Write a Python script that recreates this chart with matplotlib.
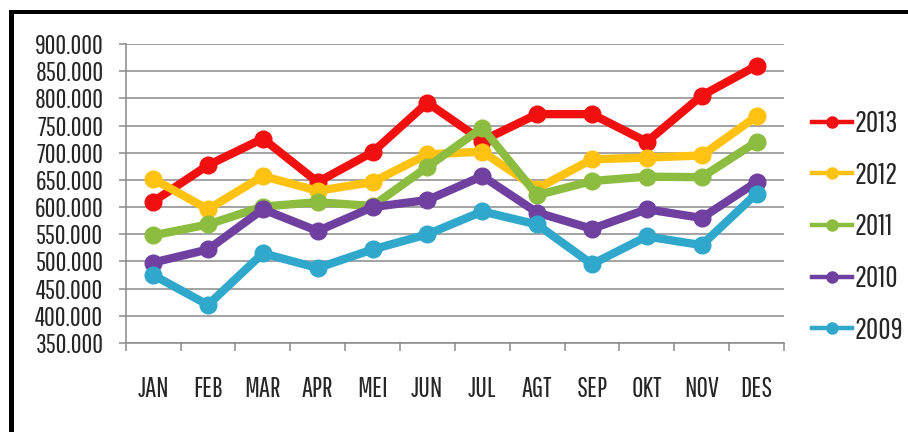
import matplotlib
matplotlib.use("Agg")
import matplotlib.pyplot as plt
from matplotlib.lines import Line2D
from matplotlib.patches import Rectangle

months = ["JAN", "FEB", "MAR", "APR", "MEI", "JUN", "JUL", "AGT", "SEP", "OKT", "NOV", "DES"]
years = ["2013", "2012", "2011", "2010", "2009"]
s2013 = [610, 677, 726, 646, 701, 792, 722, 771, 771, 720, 805, 860]
s2012 = [652, 596, 657, 630, 646, 697, 702, 634, 688, 691, 695, 767]
s2011 = [548, 568, 601, 609, 602, 674, 746, 622, 648, 656, 655, 720]
s2010 = [498, 522, 596, 556, 600, 613, 657, 590, 560, 596, 580, 646]
s2009 = [475, 420, 515, 488, 522, 550, 592, 568, 495, 546, 530, 625]
series = [s2013, s2012, s2011, s2010, s2009]
colors = ["#F20F10", "#FFC210", "#8DBD40", "#7040A0", "#30A8CC"]
yticks = [350, 400, 450, 500, 550, 600, 650, 700, 750, 800, 850, 900]
ytick_labels = [f"{v}.000" for v in yticks]

plt.rcParams["font.family"] = ["Pathway Gothic One", "Liberation Sans Narrow", "DejaVu Sans"]

fig = plt.figure(figsize=(9.08, 4.32), dpi=100)
fig.patch.set_facecolor("white")
ax = fig.add_axes([125.7 / 908, 1 - 343 / 432, (784 - 125.7) / 908, (343 - 44) / 432])

x = list(range(len(months)))
for i, (vals, col) in enumerate(zip(series, colors)):
    ax.plot(x, vals, color=col, lw=6, marker="o", markersize=12,
            solid_joinstyle="round", solid_capstyle="round", zorder=3 + i)

grid_col = "#8A8A8A"
text_col = "#262626"
ax.set_xlim(-0.5, 11.5)
ax.set_ylim(350, 900)
ax.set_yticks(yticks)
ax.set_yticklabels(ytick_labels)
ax.set_xticks(x)
ax.set_xticklabels(months)
ax.set_xticks([i - 0.5 for i in range(13)], minor=True)
ax.grid(axis="y", color=grid_col, lw=1.1, zorder=1)
ax.set_axisbelow(True)
for side in ["top", "right"]:
    ax.spines[side].set_visible(False)
for side in ["left", "bottom"]:
    ax.spines[side].set_color(grid_col)
    ax.spines[side].set_linewidth(1.1)
ax.tick_params(axis="y", length=5, width=1.1, color=grid_col, pad=11,
               labelsize=19, labelcolor=text_col)
ax.tick_params(axis="x", which="major", length=0, pad=24, labelsize=20, labelcolor=text_col)
ax.tick_params(axis="x", which="minor", length=6, width=1.1, color=grid_col)

handles = [Line2D([0], [0], color=c, lw=3.2, marker="o", markersize=8) for c in colors]
fig.legend(handles, years, loc="center left", bbox_to_anchor=(812 / 908, 1 - 227 / 432),
           frameon=False, prop={"size": 21.5}, labelcolor=text_col, handlelength=1.35,
           handletextpad=0.08, labelspacing=0.76, borderpad=0, borderaxespad=0)

# black frame on left and top
fig.add_artist(Rectangle((9 / 908, 0), 5 / 908, 1 - 10 / 432, transform=fig.transFigure,
                         color="black", lw=0))
fig.add_artist(Rectangle((9 / 908, 1 - 14 / 432), 1 - 9 / 908, 4 / 432, transform=fig.transFigure,
                         color="black", lw=0))

fig.savefig("out.png", dpi=100, facecolor="white")
